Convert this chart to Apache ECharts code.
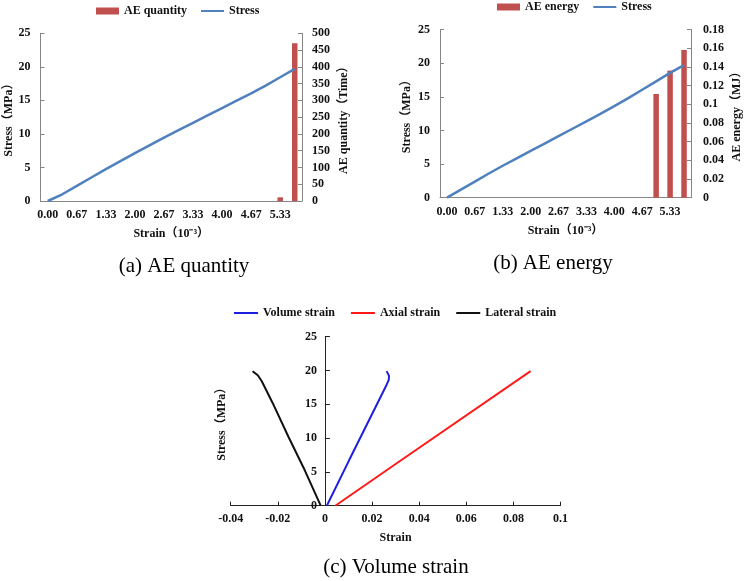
<!DOCTYPE html>
<html>
<head>
<meta charset="utf-8">
<script src="https://cdn.jsdelivr.net/npm/echarts@6/dist/echarts.min.js"></script>
<style>
  html, body { margin: 0; padding: 0; background: #fff; }
  #chart { width: 745px; height: 581px; }
</style>
</head>
<body>
<div id="chart"></div>
<script>
// strain categories (10^-3), shared by (a) and (b)
const strainCats = ['0.00', '0.33', '0.67', '1.00', '1.33', '1.67', '2.00', '2.33', '2.67',
  '3.00', '3.33', '3.67', '4.00', '4.33', '4.67', '5.00', '5.33', '5.67'];

// (a) AE quantity
const stressA = [0, 1.0, 2.25, 3.5, 4.75, 5.95, 7.15, 8.3, 9.45, 10.55, 11.65, 12.75, 13.85, 14.95, 16.05, 17.2, 18.45, 19.7];
const aeQuantity = [0, 0, 0, 0, 0, 0, 0, 0, 0, 0, 0, 0, 0, 0, 0, 0, 11, 470];

// (b) AE energy
const stressB = [0, 1.2, 2.4, 3.6, 4.75, 5.85, 6.95, 8.05, 9.15, 10.25, 11.35, 12.45, 13.6, 14.8, 16.05, 17.3, 18.55, 19.7];
const aeEnergy = [0, 0, 0, 0, 0, 0, 0, 0, 0, 0, 0, 0, 0, 0, 0, 0.111, 0.136, 0.158];

// (c) volume strain, [strain, stress]
const volumeStrain = [[0.0008, 0], [0.0103, 6.75], [0.0195, 13.2], [0.0262, 17.9],
  [0.0271, 18.6], [0.0272, 19.2], [0.0262, 19.9]];
const axialStrain = [[0.0044, 0], [0.0314, 6.5], [0.0873, 19.9]];
const lateralStrain = [[-0.0018, 0], [-0.0085, 5.2], [-0.0155, 10.2], [-0.0222, 15.2],
  [-0.0268, 18.4], [-0.0285, 19.3], [-0.0307, 19.9]];

// axis ranges
const stressAxis = { min: 0, max: 25, interval: 5 };
const quantityAxis = { min: 0, max: 500, interval: 50 };
const energyAxis = { min: 0, max: 0.18, interval: 0.02 };
const strainAxisC = { min: -0.04, max: 0.1, interval: 0.02 };

const captions = ['(a) AE quantity', '(b) AE energy', '(c) Volume strain'];

const FONT = "'Liberation Serif', 'Noto Sans CJK SC', serif";
const lbl = { fontFamily: FONT, fontWeight: 'bold', fontSize: 12, color: '#111' };
const nameStyle = { fontFamily: FONT, fontWeight: 'bold', fontSize: 12, color: '#111' };
const grayLine = { lineStyle: { color: '#868686', width: 1 } };
const darkLine = { lineStyle: { color: '#222', width: 1 } };

// grid (c) sits so the stress axis crosses at strain = 0
const gridC = { left: 230.7, top: 336.7, width: 329.8, height: 169 };
const zeroShift = (0 - strainAxisC.min) / (strainAxisC.max - strainAxisC.min) * gridC.width;

// hide the dot that ECharts puts on line legend icons
const noDot = { opacity: 0 };

function catAxis(grid) {
  return {
    type: 'category', gridIndex: grid, data: strainCats, boundaryGap: true,
    name: 'Strain（10⁻³）', nameLocation: 'middle', nameGap: 27, nameTextStyle: nameStyle,
    axisLine: grayLine,
    axisTick: { inside: true, length: 4, interval: 0, lineStyle: { color: '#868686' } },
    axisLabel: Object.assign({ interval: 1, margin: 8 }, lbl),
    splitLine: { show: false }
  };
}

function valAxis(grid, range, pos, name, gap) {
  return Object.assign({
    type: 'value', gridIndex: grid, position: pos,
    name: name, nameLocation: 'middle', nameGap: gap, nameRotate: 90, nameTextStyle: nameStyle,
    axisLine: Object.assign({ show: true }, grayLine),
    axisTick: { show: true, inside: true, length: 4, lineStyle: { color: '#868686' } },
    axisLabel: Object.assign({ margin: 10 }, lbl),
    splitLine: { show: false }
  }, range);
}

const chart = echarts.init(document.getElementById('chart'));

const option = {
  animation: false,
  backgroundColor: '#fff',
  textStyle: { fontFamily: FONT },
  legend: [
    {
      data: [{ name: 'AE quantity', icon: 'rect' }, { name: 'Stress', itemStyle: noDot }],
      left: 96, top: 5, padding: 0, itemGap: 13,
      itemWidth: 23, itemHeight: 7, textStyle: lbl
    },
    {
      data: [{ name: 'AE energy', icon: 'rect' }, { name: 'Stress', itemStyle: noDot }],
      left: 497, top: 1, padding: 0, itemGap: 13,
      itemWidth: 23, itemHeight: 7, textStyle: lbl
    },
    {
      data: [
        { name: 'Volume strain', itemStyle: noDot },
        { name: 'Axial strain', itemStyle: noDot },
        { name: 'Lateral strain', itemStyle: noDot }
      ],
      left: 233, top: 307, padding: 0, itemGap: 15,
      itemWidth: 24, itemHeight: 7, textStyle: lbl
    }
  ],
  grid: [
    { left: 40.5, top: 33.3, width: 261.5, height: 167.7 },
    { left: 440, top: 29.5, width: 251, height: 168.2 },
    gridC
  ],
  xAxis: [
    catAxis(0),
    catAxis(1),
    Object.assign({
      type: 'value', gridIndex: 2,
      name: 'Strain', nameLocation: 'middle', nameGap: 26, nameTextStyle: nameStyle,
      axisLine: darkLine,
      axisTick: { inside: true, length: 4, lineStyle: { color: '#222' } },
      axisLabel: Object.assign({ margin: 7 }, lbl),
      splitLine: { show: false }
    }, strainAxisC)
  ],
  yAxis: [
    valAxis(0, stressAxis, 'left', 'Stress（MPa）', 26),
    valAxis(0, quantityAxis, 'right', 'AE quantity（Time）', 36),
    valAxis(1, stressAxis, 'left', 'Stress（MPa）', 27),
    Object.assign(valAxis(1, energyAxis, 'right', 'AE energy（MJ）', 40), {
      axisLabel: Object.assign({ margin: 12 }, lbl)
    }),
    Object.assign({
      type: 'value', gridIndex: 2, position: 'left', offset: -zeroShift,
      name: 'Stress（MPa）', nameLocation: 'middle', nameGap: 97, nameRotate: 90, nameTextStyle: nameStyle,
      axisLine: Object.assign({ show: true, onZero: false }, darkLine),
      axisTick: { show: true, inside: true, length: 5, lineStyle: { color: '#222' } },
      axisLabel: Object.assign({ margin: 8 }, lbl),
      splitLine: { show: false }
    }, stressAxis)
  ],
  series: [
    {
      name: 'AE quantity', type: 'bar', xAxisIndex: 0, yAxisIndex: 1,
      data: aeQuantity, barWidth: 5.5, itemStyle: { color: '#C0504D' }
    },
    {
      name: 'Stress', type: 'line', xAxisIndex: 0, yAxisIndex: 0,
      data: stressA, symbol: 'none', lineStyle: { color: '#4F81BD', width: 2.5 }, itemStyle: { color: '#4F81BD' }
    },
    {
      name: 'AE energy', type: 'bar', xAxisIndex: 1, yAxisIndex: 3,
      data: aeEnergy, barWidth: 5.5, itemStyle: { color: '#C0504D' }
    },
    {
      name: 'Stress', type: 'line', xAxisIndex: 1, yAxisIndex: 2,
      data: stressB, symbol: 'none', lineStyle: { color: '#4F81BD', width: 2.5 }, itemStyle: { color: '#4F81BD' }
    },
    {
      name: 'Volume strain', type: 'line', xAxisIndex: 2, yAxisIndex: 4,
      data: volumeStrain, symbol: 'none', lineStyle: { color: '#1F1FE0', width: 2 }, itemStyle: { color: '#1F1FE0' }
    },
    {
      name: 'Axial strain', type: 'line', xAxisIndex: 2, yAxisIndex: 4,
      data: axialStrain, symbol: 'none', lineStyle: { color: '#FF1A1A', width: 2 }, itemStyle: { color: '#FF1A1A' }
    },
    {
      name: 'Lateral strain', type: 'line', xAxisIndex: 2, yAxisIndex: 4,
      data: lateralStrain, symbol: 'none', lineStyle: { color: '#111', width: 2 }, itemStyle: { color: '#111' }
    }
  ],
  graphic: [
    { type: 'text', x: 184, y: 266, style: { text: captions[0], font: '21px ' + FONT, fill: '#000', textAlign: 'center', textVerticalAlign: 'middle' } },
    { type: 'text', x: 553, y: 263, style: { text: captions[1], font: '21px ' + FONT, fill: '#000', textAlign: 'center', textVerticalAlign: 'middle' } },
    { type: 'text', x: 396, y: 567, style: { text: captions[2], font: '21px ' + FONT, fill: '#000', textAlign: 'center', textVerticalAlign: 'middle' } }
  ]
};

chart.setOption(option);
</script>
</body>
</html>
